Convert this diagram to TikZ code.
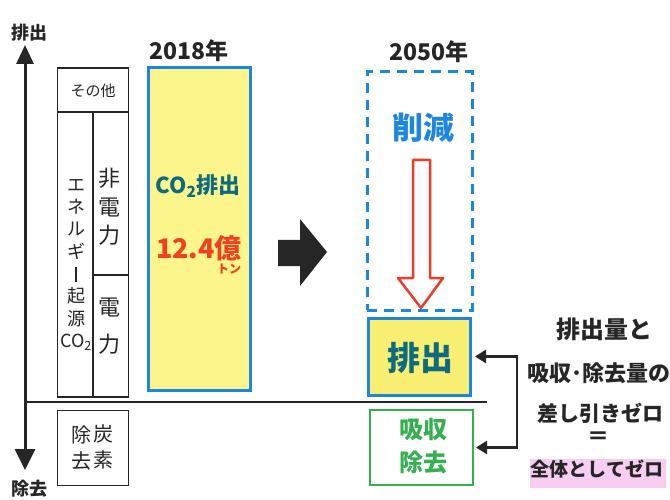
\documentclass[tikz,border=0pt]{standalone}
\usepackage{fontspec}
\setmainfont{Noto Sans CJK JP}
\usetikzlibrary{arrows.meta}
\definecolor{ink}{HTML}{262626}
\definecolor{boxblue}{HTML}{1C86E0}
\definecolor{paleyellow}{HTML}{FBF58C}
\definecolor{yellowfill}{HTML}{F8EE72}
\definecolor{tealtext}{HTML}{0E6A80}
\definecolor{redtext}{HTML}{F2401E}
\definecolor{arrowred}{HTML}{EE3A2A}
\definecolor{greenbox}{HTML}{36B04E}
\definecolor{pinkhl}{HTML}{F7CDF2}
\newcommand{\fs}[2]{\fontsize{#1}{#2}\selectfont}
\begin{document}
\begin{tikzpicture}[x=1pt,y=-1pt,
  every node/.style={inner sep=0pt,outer sep=0pt,text=ink},
  thinbox/.style={draw=ink,line width=1.1pt},
  axisline/.style={draw=ink,line width=3pt},
  bluebox/.style={draw=boxblue,line width=3pt},
  conn/.style={draw=ink,line width=2.5pt,{Triangle[length=11pt,width=13pt]}-{Triangle[length=11pt,width=13pt]}},
  lbl/.style={font=\bfseries\fs{18}{21}},
]
\useasboundingbox (0,0) rectangle (670,500);
\fill[white] (0,0) rectangle (670,500);

% ---------- axis ----------
\node[lbl] (axTopLbl) at (29,33) {排出};
\node[lbl] (axBotLbl) at (30,489) {除去};
\coordinate (axTop) at (25,45);
\coordinate (axBot) at (25,470);
\draw[axisline,{Triangle[length=19pt,width=17pt]}-{Triangle[length=21pt,width=20pt]}] (axTop) -- (axBot);
\coordinate (baseL) at (25,402);
\coordinate (baseR) at (487,402);
\draw[axisline,line width=2.6pt] (baseL) -- (baseR);

% ---------- left breakdown box ----------
\node[thinbox,minimum width=71pt,minimum height=329pt] (brk) at (93,232.5) {};
\coordinate (d1L) at (57.5,112);
\coordinate (d1R) at (128.5,112);
\draw[thinbox] (d1L) -- (d1R);
\coordinate (d2T) at (93,112);
\coordinate (d2B) at (93,397);
\draw[thinbox] (d2T) -- (d2B);
\coordinate (d3L) at (93,275);
\coordinate (d3R) at (128.5,275);
\draw[thinbox] (d3L) -- (d3R);
\node[font=\fs{15}{17}] (other) at (93,91) {その他};
\node[font=\fs{18}{22.3},align=center] (energy) at (76,265)
  {エ\\ネ\\ル\\ギ\\\rule[-1pt]{1.4pt}{15pt}\\起\\源\\CO\textsubscript{2}};
\node[font=\fs{22}{28.5},align=center] (nonpow) at (109,207) {非\\電\\力};
\node[font=\fs{22}{37},align=center] (pow) at (109,326) {電\\力};

\node[thinbox,minimum width=71pt,minimum height=75pt] (rem) at (93,448) {};
\node[font=\fs{20}{26},align=center] (remA) at (81,448) {除\\去};
\node[font=\fs{20}{26},align=center] (remB) at (103,447) {炭\\素};

% ---------- 2018 ----------
\node[font=\bfseries\fs{23}{26}] (y2018) at (189,51) {2018年};
\node[bluebox,fill=paleyellow,minimum width=102pt,minimum height=322pt] (b2018) at (199,229) {};
\node[font=\bfseries\fs{22}{24},text=tealtext] (co2) at (198,186) {CO\textsubscript{2}排出};
\node[font=\bfseries\fs{27}{28},text=redtext] (amt) at (199,248) {12.4億};
\node[font=\bfseries\fs{12}{14},text=redtext] (ton) at (229,269) {トン};

% ---------- big arrow ----------
\fill[ink] (278,240) -- (300,240) -- (300,219) -- (327,252) -- (300,286) -- (300,266) -- (278,266) -- cycle;

% ---------- 2050 ----------
\node[font=\bfseries\fs{23}{26}] (y2050) at (429,52) {2050年};
\node[draw=boxblue,line width=3pt,dash pattern=on 10pt off 7pt,minimum width=105pt,minimum height=238pt] (cut) at (419.5,191) {};
\node[font=\bfseries\fs{31}{34},text=boxblue] (cutlbl) at (423,128) {削減};
\fill[white] (413,160) -- (430,160) -- (430,278) -- (443,278) -- (421,308) -- (398,278) -- (413,278) -- cycle;
\draw[arrowred,line width=2.5pt,line join=round] (413,160) -- (430,160) -- (430,278) -- (443,278) -- (421,308) -- (398,278) -- (413,278) -- cycle;

\node[bluebox,fill=yellowfill,minimum width=102pt,minimum height=77pt] (emit) at (419,356.5) {};
\node[font=\bfseries\fs{33}{34},text=tealtext] (emitlbl) at (420,358) {排出};
\node[draw=greenbox,line width=2.6pt,fill=white,minimum width=103pt,minimum height=75pt] (absorb) at (421.5,447.5) {};
\node[font=\bfseries\fs{24}{33},text=greenbox,align=center] (absorblbl) at (423,446) {吸収\\除去};

% ---------- connector ----------
\draw[conn,shorten <=5pt,shorten >=3pt] (emit.east) -- ++(47,0) |- (absorb.east);

% ---------- right note ----------
\fill[pinkhl] (530,459) rectangle (666,488);
\node[font=\bfseries\fs{24}{26}] (n1) at (604,329) {排出量と};
\node[font=\bfseries\fs{22}{26}] (n2) at (599,373) {吸収･除去量の};
\node[font=\bfseries\fs{21}{24}] (n3) at (600,413) {差し引きゼロ};
\node[font=\bfseries\fs{22}{24}] (n4) at (598,438) {＝};
\node[font=\bfseries\fs{19}{22}] (n5) at (597,469) {全体としてゼロ};
\end{tikzpicture}
\end{document}
